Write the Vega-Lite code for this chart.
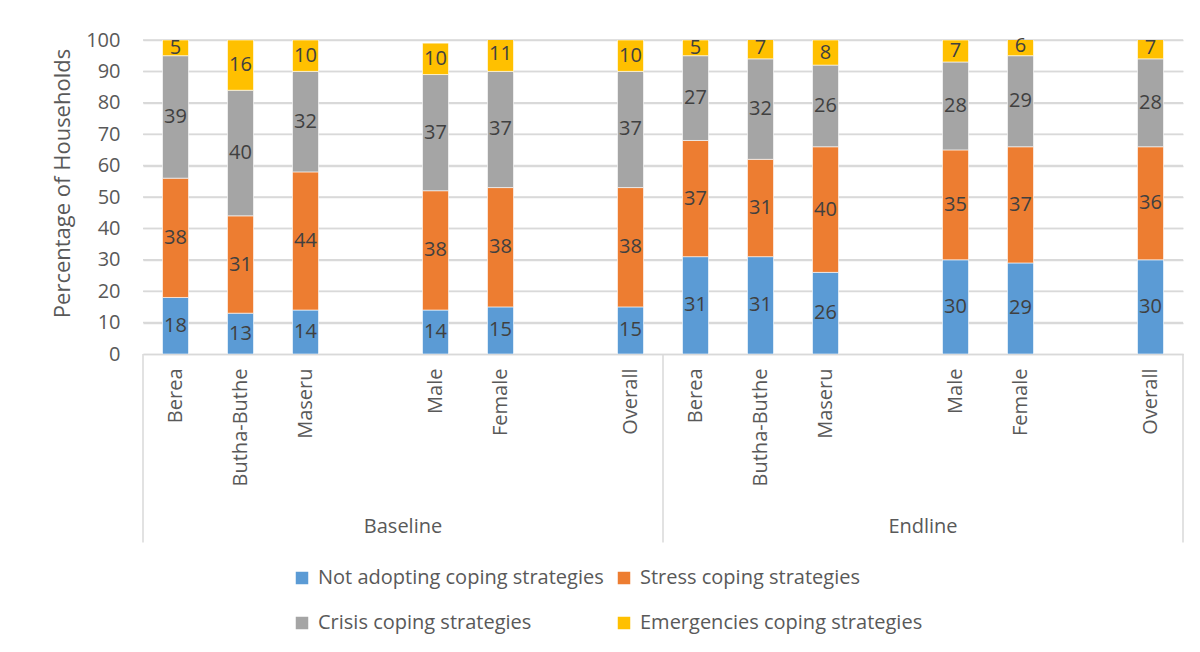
{
  "$schema": "https://vega.github.io/schema/vega-lite/v6.json",
  "width": 1040,
  "height": 314,
  "autosize": "none",
  "padding": {"left": 143, "top": 40, "right": 17, "bottom": 298},
  "background": "white",
  "config": {
    "font": "Open Sans",
    "view": {"stroke": null},
    "text": {"font": "Open Sans"},
    "axisY": {
      "titleFontSize": 22, "titleFont": "Open Sans", "titleColor": "#595959", "titleFontWeight": "normal", "titlePadding": 11,
      "labelFontSize": 20, "labelColor": "#595959", "labelFont": "Open Sans", "labelPadding": 23, "labelOverlap": false,
      "ticks": false, "domain": false, "grid": true, "gridColor": "#D9D9D9", "gridWidth": 1.5
    },
    "axisX": {
      "labelAngle": -90, "labelAlign": "right", "labelBaseline": "middle",
      "labelPadding": 14, "labelFontSize": 20, "labelColor": "#595959", "labelFont": "Open Sans",
      "ticks": false, "domainColor": "#D9D9D9", "domainWidth": 1.5, "grid": false,
      "labelOverlap": false, "labelBound": false
    }
  },
  "datasets": {
    "bars": [
      {"slot": "Baseline|Berea", "strategy": "Not adopting coping strategies", "rank": 1, "value": 18},
      {"slot": "Baseline|Berea", "strategy": "Stress coping strategies", "rank": 2, "value": 38},
      {"slot": "Baseline|Berea", "strategy": "Crisis coping strategies", "rank": 3, "value": 39},
      {"slot": "Baseline|Berea", "strategy": "Emergencies coping strategies", "rank": 4, "value": 5},
      {"slot": "Baseline|Butha-Buthe", "strategy": "Not adopting coping strategies", "rank": 1, "value": 13},
      {"slot": "Baseline|Butha-Buthe", "strategy": "Stress coping strategies", "rank": 2, "value": 31},
      {"slot": "Baseline|Butha-Buthe", "strategy": "Crisis coping strategies", "rank": 3, "value": 40},
      {"slot": "Baseline|Butha-Buthe", "strategy": "Emergencies coping strategies", "rank": 4, "value": 16},
      {"slot": "Baseline|Maseru", "strategy": "Not adopting coping strategies", "rank": 1, "value": 14},
      {"slot": "Baseline|Maseru", "strategy": "Stress coping strategies", "rank": 2, "value": 44},
      {"slot": "Baseline|Maseru", "strategy": "Crisis coping strategies", "rank": 3, "value": 32},
      {"slot": "Baseline|Maseru", "strategy": "Emergencies coping strategies", "rank": 4, "value": 10},
      {"slot": "Baseline|Male", "strategy": "Not adopting coping strategies", "rank": 1, "value": 14},
      {"slot": "Baseline|Male", "strategy": "Stress coping strategies", "rank": 2, "value": 38},
      {"slot": "Baseline|Male", "strategy": "Crisis coping strategies", "rank": 3, "value": 37},
      {"slot": "Baseline|Male", "strategy": "Emergencies coping strategies", "rank": 4, "value": 10},
      {"slot": "Baseline|Female", "strategy": "Not adopting coping strategies", "rank": 1, "value": 15},
      {"slot": "Baseline|Female", "strategy": "Stress coping strategies", "rank": 2, "value": 38},
      {"slot": "Baseline|Female", "strategy": "Crisis coping strategies", "rank": 3, "value": 37},
      {"slot": "Baseline|Female", "strategy": "Emergencies coping strategies", "rank": 4, "value": 11},
      {"slot": "Baseline|Overall", "strategy": "Not adopting coping strategies", "rank": 1, "value": 15},
      {"slot": "Baseline|Overall", "strategy": "Stress coping strategies", "rank": 2, "value": 38},
      {"slot": "Baseline|Overall", "strategy": "Crisis coping strategies", "rank": 3, "value": 37},
      {"slot": "Baseline|Overall", "strategy": "Emergencies coping strategies", "rank": 4, "value": 10},
      {"slot": "Endline|Berea", "strategy": "Not adopting coping strategies", "rank": 1, "value": 31},
      {"slot": "Endline|Berea", "strategy": "Stress coping strategies", "rank": 2, "value": 37},
      {"slot": "Endline|Berea", "strategy": "Crisis coping strategies", "rank": 3, "value": 27},
      {"slot": "Endline|Berea", "strategy": "Emergencies coping strategies", "rank": 4, "value": 5},
      {"slot": "Endline|Butha-Buthe", "strategy": "Not adopting coping strategies", "rank": 1, "value": 31},
      {"slot": "Endline|Butha-Buthe", "strategy": "Stress coping strategies", "rank": 2, "value": 31},
      {"slot": "Endline|Butha-Buthe", "strategy": "Crisis coping strategies", "rank": 3, "value": 32},
      {"slot": "Endline|Butha-Buthe", "strategy": "Emergencies coping strategies", "rank": 4, "value": 7},
      {"slot": "Endline|Maseru", "strategy": "Not adopting coping strategies", "rank": 1, "value": 26},
      {"slot": "Endline|Maseru", "strategy": "Stress coping strategies", "rank": 2, "value": 40},
      {"slot": "Endline|Maseru", "strategy": "Crisis coping strategies", "rank": 3, "value": 26},
      {"slot": "Endline|Maseru", "strategy": "Emergencies coping strategies", "rank": 4, "value": 8},
      {"slot": "Endline|Male", "strategy": "Not adopting coping strategies", "rank": 1, "value": 30},
      {"slot": "Endline|Male", "strategy": "Stress coping strategies", "rank": 2, "value": 35},
      {"slot": "Endline|Male", "strategy": "Crisis coping strategies", "rank": 3, "value": 28},
      {"slot": "Endline|Male", "strategy": "Emergencies coping strategies", "rank": 4, "value": 7},
      {"slot": "Endline|Female", "strategy": "Not adopting coping strategies", "rank": 1, "value": 29},
      {"slot": "Endline|Female", "strategy": "Stress coping strategies", "rank": 2, "value": 37},
      {"slot": "Endline|Female", "strategy": "Crisis coping strategies", "rank": 3, "value": 29},
      {"slot": "Endline|Female", "strategy": "Emergencies coping strategies", "rank": 4, "value": 6},
      {"slot": "Endline|Overall", "strategy": "Not adopting coping strategies", "rank": 1, "value": 30},
      {"slot": "Endline|Overall", "strategy": "Stress coping strategies", "rank": 2, "value": 36},
      {"slot": "Endline|Overall", "strategy": "Crisis coping strategies", "rank": 3, "value": 28},
      {"slot": "Endline|Overall", "strategy": "Emergencies coping strategies", "rank": 4, "value": 7}
    ],
    "gridlines": [
      {"level": 10}, {"level": 20}, {"level": 30}, {"level": 40}, {"level": 50},
      {"level": 60}, {"level": 70}, {"level": 80}, {"level": 90}, {"level": 100}
    ],
    "groups": [
      {"phase": "Baseline", "slot": "Baseline|Male"},
      {"phase": "Endline", "slot": "Endline|Male"}
    ],
    "startEdges": [
      {"slot": "Baseline|Berea"},
      {"slot": "Endline|Berea"}
    ],
    "endEdges": [
      {"slot": "Endline|Overall"}
    ]
  },
  "resolve": {"scale": {"y": "independent"}, "axis": {"y": "independent"}},
  "layer": [
    {
      "data": {"name": "gridlines"},
      "mark": {"type": "rule", "color": "#D9D9D9", "strokeWidth": 1.5},
      "encoding": {
        "y": {"field": "level", "type": "quantitative", "scale": {"domain": [0, 100], "nice": false}, "axis": null}
      }
    },
    {
      "data": {"name": "bars"},
      "mark": {"type": "bar", "clip": true, "stroke": "white", "strokeWidth": 0.6},
      "encoding": {
        "x": {
          "field": "slot", "type": "nominal",
          "scale": {
            "domain": ["Baseline|Berea", "Baseline|Butha-Buthe", "Baseline|Maseru", "Baseline|_1", "Baseline|Male", "Baseline|Female", "Baseline|_2", "Baseline|Overall",
                       "Endline|Berea", "Endline|Butha-Buthe", "Endline|Maseru", "Endline|_1", "Endline|Male", "Endline|Female", "Endline|_2", "Endline|Overall"],
            "paddingInner": 0.6, "paddingOuter": 0.3
          },
          "axis": {"title": null, "labelExpr": "indexof(datum.value, '_') >= 0 ? '' : split(datum.value, '|')[1]"}
        },
        "y": {
          "field": "value", "type": "quantitative", "stack": "zero",
          "scale": {"domain": [0, 100], "nice": false},
          "axis": {"title": "Percentage of Households", "values": [0, 10, 20, 30, 40, 50, 60, 70, 80, 90, 100], "grid": true, "labelOverlap": false, "titleY": 143}
        },
        "color": {
          "field": "strategy", "type": "nominal",
          "scale": {
            "domain": ["Not adopting coping strategies", "Stress coping strategies", "Crisis coping strategies", "Emergencies coping strategies"],
            "range": ["#5B9BD5", "#ED7D31", "#A5A5A5", "#FFC000"]
          },
          "legend": {
            "title": null, "orient": "none", "legendX": 149, "legendY": 528,
            "columns": 2, "direction": "horizontal",
            "symbolType": "square", "symbolSize": 156, "symbolStrokeWidth": 0, "symbolOpacity": 1,
            "labelFontSize": 20, "labelColor": "#595959", "labelFont": "Open Sans", "labelLimit": 400,
            "labelOffset": 6, "columnPadding": 10, "rowPadding": 25
          }
        },
        "order": {"field": "rank", "type": "quantitative"}
      }
    },
    {
      "data": {"name": "bars"},
      "mark": {"type": "text", "fontSize": 20, "color": "#404040", "baseline": "middle", "align": "center"},
      "encoding": {
        "x": {"field": "slot", "type": "nominal"},
        "y": {"field": "value", "type": "quantitative", "stack": "zero", "bandPosition": 0.5, "scale": {"domain": [0, 100], "nice": false}, "axis": null},
        "detail": {"field": "strategy", "type": "nominal"},
        "order": {"field": "rank", "type": "quantitative"},
        "text": {"field": "value", "type": "quantitative"}
      }
    },
    {
      "data": {"name": "startEdges"},
      "mark": {"type": "rule", "color": "#D9D9D9", "strokeWidth": 1.5},
      "encoding": {
        "x": {"field": "slot", "type": "nominal", "bandPosition": -0.75},
        "y": {"datum": 0, "type": "quantitative", "scale": {"domain": [0, 100], "nice": false}, "axis": null},
        "y2": {"datum": -60}
      }
    },
    {
      "data": {"name": "endEdges"},
      "mark": {"type": "rule", "color": "#D9D9D9", "strokeWidth": 1.5},
      "encoding": {
        "x": {"field": "slot", "type": "nominal", "bandPosition": 1.75},
        "y": {"datum": 0, "type": "quantitative", "scale": {"domain": [0, 100], "nice": false}, "axis": null},
        "y2": {"datum": -60}
      }
    },
    {
      "data": {"name": "groups"},
      "mark": {"type": "text", "fontSize": 20, "color": "#595959", "baseline": "middle", "align": "center"},
      "encoding": {
        "x": {"field": "slot", "type": "nominal", "bandPosition": -0.75},
        "y": {"datum": -55.2, "type": "quantitative", "scale": {"domain": [0, 100], "nice": false}, "axis": null},
        "text": {"field": "phase", "type": "nominal"}
      }
    }
  ]
}
